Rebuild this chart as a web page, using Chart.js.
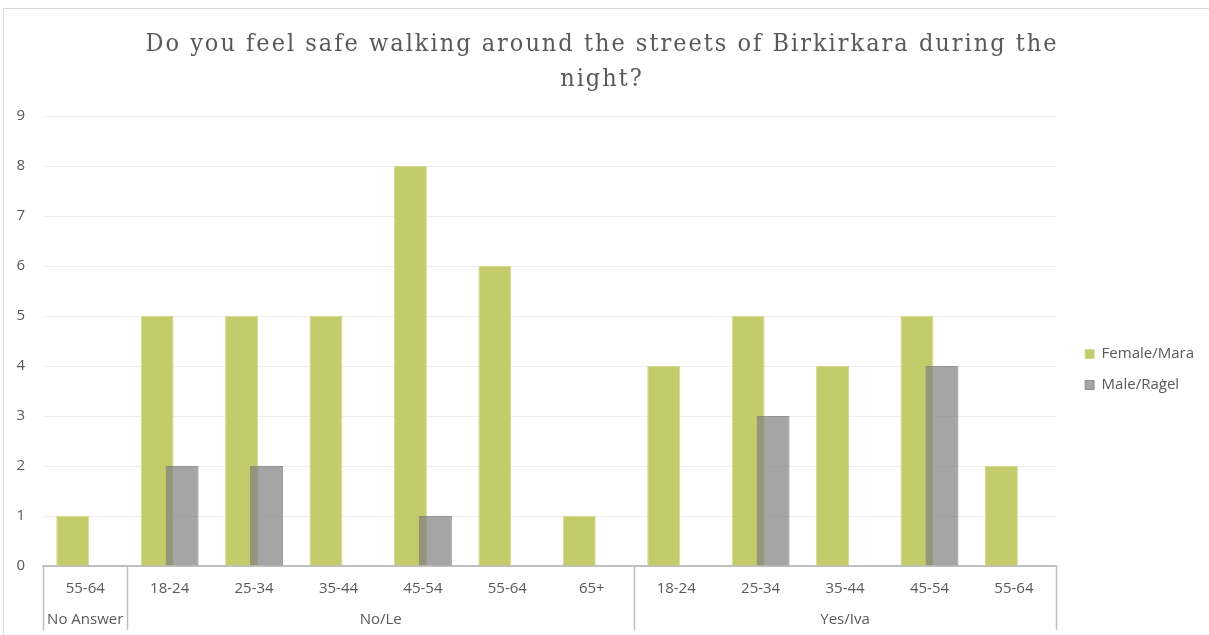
<!DOCTYPE html>
<html>
<head>
<meta charset="utf-8">
<script src="https://cdn.jsdelivr.net/npm/chart.js@4.4.1/dist/chart.umd.min.js"></script>
<style>
  html, body { margin: 0; padding: 0; background: #ffffff; }
  #wrap { position: relative; width: 1209px; height: 635px; overflow: hidden; }
  #frame { position: absolute; left: 3px; top: 8px; width: 1300px; height: 700px;
           border-top: 1px solid #d9d9d9; border-left: 1px solid #d9d9d9; pointer-events: none; }
  canvas { position: absolute; left: 0; top: 0; }
</style>
</head>
<body>
<div id="wrap">
  <canvas id="c" width="1209" height="635"></canvas>
  <div id="frame"></div>
</div>
<script>
// ---- data ----
const titleLines = ["Do you feel safe walking around the streets of Birkirkara during the", "night?"];
const ageLabels = ["55-64", "18-24", "25-34", "35-44", "45-54", "55-64", "65+", "18-24", "25-34", "35-44", "45-54", "55-64"];
const groupNames = ["No Answer", "No/Le", "Yes/Iva"];
const groupSizes = [1, 6, 5];
const femaleValues = [1, 5, 5, 5, 8, 6, 1, 4, 5, 4, 5, 2];
const maleValues = [0, 2, 2, 0, 1, 0, 0, 0, 3, 0, 4, 0];
const yTicks = [0, 1, 2, 3, 4, 5, 6, 7, 8, 9];

const TEXT = '#595959';
const LINE = '#bfbfbf';
const FONT = "'Open Sans', 'Liberation Sans', sans-serif";
const FS = 15;

// plugin: multi-level category axis (group labels + separators)
const groupAxisPlugin = {
  id: 'groupAxis',
  afterDraw(chart) {
    const x = chart.scales.x;
    const ctx = chart.ctx;
    const top = chart.chartArea.bottom;
    const bottom = 630;
    ctx.save();
    ctx.strokeStyle = LINE;
    ctx.lineWidth = 1.5;
    let start = 0;
    const bounds = [0];
    groupSizes.forEach(s => { start += s; bounds.push(start); });
    bounds.forEach(b => {
      const px = Math.round(x.getPixelForValue(b - 0.5)) + 0.5;
      ctx.beginPath();
      ctx.moveTo(px, top);
      ctx.lineTo(px, bottom);
      ctx.stroke();
    });
    ctx.fillStyle = TEXT;
    ctx.font = FS + "px " + FONT;
    ctx.textAlign = 'center';
    ctx.textBaseline = 'middle';
    for (let g = 0; g < groupNames.length; g++) {
      const a = bounds[g], b = bounds[g + 1];
      const mid = (a + b - 1) / 2;
      ctx.fillText(groupNames[g], x.getPixelForValue(mid), 620);
    }
    ctx.restore();
  }
};

// plugin: letter spacing for the title only
const titleSpacingPlugin = {
  id: 'titleSpacing',
  beforeDraw(chart) {
    const tb = chart.titleBlock;
    if (tb && !tb._spaced) {
      const orig = tb.draw;
      tb.draw = function () {
        const ctx = this.ctx;
        ctx.save();
        ctx.letterSpacing = '2px';
        orig.apply(this, arguments);
        ctx.restore();
      };
      tb._spaced = true;
    }
  }
};

const barOpts = { categoryPercentage: 0.592, barPercentage: 1.32 };

new Chart(document.getElementById('c'), {
  type: 'bar',
  data: {
    labels: ageLabels,
    datasets: [
      Object.assign({
        label: 'Female/Mara',
        data: femaleValues,
        backgroundColor: '#c3cb6a',
        borderColor: '#d3d98f',
        borderWidth: 1,
        stack: 'f',
        order: 1
      }, barOpts),
      Object.assign({
        label: 'Male/Raġel',
        data: maleValues,
        backgroundColor: 'rgba(127,127,127,0.70)',
        borderColor: 'rgba(120,120,120,0.75)',
        borderWidth: 1,
        stack: 'm',
        order: 0
      }, barOpts),
      Object.assign({
        label: '_slot',
        data: ageLabels.map(() => null),
        backgroundColor: 'rgba(0,0,0,0)',
        stack: 'f',
        order: -1
      }, barOpts)
    ]
  },
  options: {
    responsive: false,
    animation: false,
    devicePixelRatio: 1,
    layout: { padding: { left: 0, right: 5, top: 0, bottom: 0 } },
    plugins: {
      title: {
        display: true,
        text: titleLines,
        color: TEXT,
        font: { family: "'DejaVu Serif Condensed', 'Liberation Serif', serif", size: 25, weight: 'normal', lineHeight: 1.4 },
        padding: { top: 27, bottom: 19 }
      },
      legend: {
        position: 'right',
        title: { display: true, text: ' ', font: { size: 14, lineHeight: 1 }, padding: { top: 0, bottom: 90 } },
        labels: {
          filter: (item) => item.text !== '_slot',
          sort: (a, b) => a.datasetIndex - b.datasetIndex,
          boxWidth: 9,
          boxHeight: 9,
          padding: 16,
          color: TEXT,
          font: { family: FONT, size: FS }
        }
      },
      tooltip: { enabled: false }
    },
    scales: {
      x: {
        grid: { display: false, drawTicks: false },
        border: { display: true, color: LINE, width: 2 },
        ticks: { color: TEXT, font: { family: FONT, size: FS }, padding: 14, maxRotation: 0, autoSkip: false },
        afterFit(scale) { scale.height = 69; }
      },
      y: {
        min: 0,
        max: 9,
        grid: { color: '#eeeeee', lineWidth: 1, drawTicks: false },
        border: { display: false },
        ticks: {
          stepSize: 1,
          color: TEXT,
          font: { family: FONT, size: FS },
          padding: 18,
          callback: (v) => yTicks.includes(v) ? String(v) : ''
        },
        afterFit(scale) { scale.width = 43; }
      },
      gap: {
        type: 'linear',
        position: 'right',
        display: true,
        grid: { display: false, drawTicks: false },
        border: { display: false },
        ticks: { display: false },
        afterFit(scale) { scale.width = 13; }
      }
    }
  },
  plugins: [groupAxisPlugin, titleSpacingPlugin]
});
</script>
</body>
</html>
